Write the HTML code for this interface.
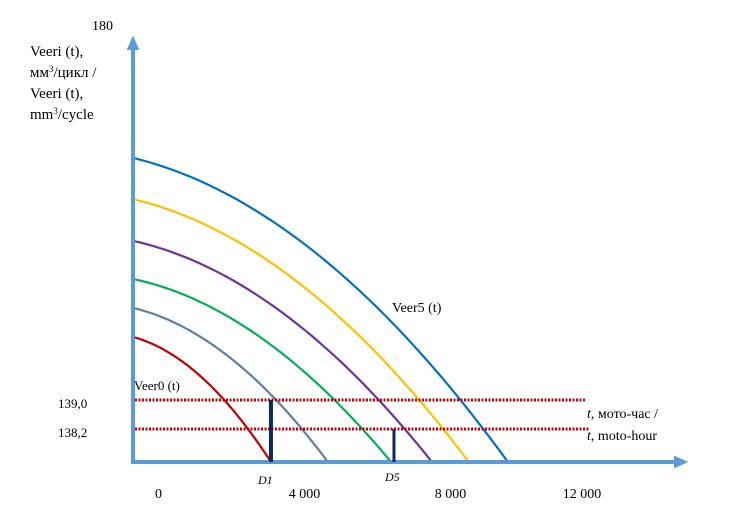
<!DOCTYPE html>
<html><head><meta charset="utf-8"><style>
body{margin:0;background:#fff;}
svg{display:block;font-family:"Liberation Serif","DejaVu Serif",serif;}
</style></head><body>
<svg id="chart" width="733" height="513" viewBox="0 0 733 513">
<defs><marker id="arr" markerWidth="4" markerHeight="4" refX="2" refY="2" orient="auto" markerUnits="strokeWidth"><path d="M0,0.4 L3.6,2 L0,3.6 Z" fill="#5b9bd5"/></marker></defs>
<g id="curves"></g>
<g id="levels"></g>
<line x1="133" y1="462" x2="133" y2="42" stroke="#5b9bd5" stroke-width="4" marker-end="url(#arr)"/>
<line x1="131" y1="462" x2="682" y2="462" stroke="#5b9bd5" stroke-width="4" marker-end="url(#arr)"/>
<g id="bars"></g>
<text x="92" y="30" font-size="14">180</text>
<g font-size="15">
<text x="30" y="56">Veeri  (t),</text>
<text x="30" y="77">мм<tspan font-size="9" dy="-5">3</tspan><tspan dy="5">/цикл  /</tspan></text>
<text x="30" y="98">Veeri  (t),</text>
<text x="30" y="119">mm<tspan font-size="9" dy="-5">3</tspan><tspan dy="5">/cycle</tspan></text>
</g>
<text x="58" y="408" font-size="13">139,0</text>
<text x="58" y="437" font-size="13">138,2</text>
<text x="392" y="312" font-size="14">Veer5 (t)</text>
<text x="134" y="390" font-size="13">Veer0 (t)</text>
<g font-size="14">
<text x="587" y="418"><tspan font-style="italic">t</tspan>, мото-час /</text>
<text x="587" y="440"><tspan font-style="italic">t</tspan>, moto-hour</text>
</g>
<text x="258" y="484" font-size="12" font-style="italic">D1</text>
<text x="385" y="481" font-size="12" font-style="italic">D5</text>
<g id="ticks" font-size="14"></g>
</svg>
<script>
const seriesNames=["Veer0","Veer1","Veer2","Veer3","Veer4","Veer5"];
const startValues=[140.74,141.54,142.34,143.39,144.54,145.68];
const endTimes=[3780,5340,7070,8190,9200,10270];
const colors=["#c00000","#5b7fa6","#00b050","#7030a0","#ffc000","#0070c0"];
const levels=[139.0,138.2];
const barTimes=[3780,7150];
const barTops=[139.0,138.2];
const tickLabels=["0","4 000","8 000","12 000"];
const tickTimes=[700,4700,8700,12300];
const baseValue=137.29;
const X=t=>133+t*0.0365;
const Y=v=>400-(v-139.0)*36.25;
const NS="http://www.w3.org/2000/svg";
const cg=document.getElementById("curves");
seriesNames.forEach((n,i)=>{
  let d="";
  for(let k=0;k<=40;k++){const u=k/40;const t=u*endTimes[i];const v=baseValue+(startValues[i]-baseValue)*(1-(0.3*u+0.7*u*u));d+=(k?"L":"M")+X(t).toFixed(1)+","+Y(v).toFixed(1);}
  const p=document.createElementNS(NS,"path");
  p.setAttribute("d",d);p.setAttribute("fill","none");p.setAttribute("stroke",colors[i]);p.setAttribute("stroke-width","2.2");
  
  
  cg.appendChild(p);
});
const lg=document.getElementById("levels");
levels.forEach((v,i)=>{
  const l=document.createElementNS(NS,"line");
  l.setAttribute("x1",135);l.setAttribute("x2",i?590:585);l.setAttribute("y1",Y(v));l.setAttribute("y2",Y(v));
  l.setAttribute("stroke","#c00000");l.setAttribute("stroke-width","3");l.setAttribute("stroke-dasharray","2 1.5");
  
  
  lg.appendChild(l);
});
const bg=document.getElementById("bars");
barTimes.forEach((t,i)=>{
  const l=document.createElementNS(NS,"line");
  l.setAttribute("x1",X(t));l.setAttribute("x2",X(t));l.setAttribute("y1",Y(barTops[i]));l.setAttribute("y2",462);
  l.setAttribute("stroke","#0d2a5e");l.setAttribute("stroke-width",i?3:4);
  
  
  bg.appendChild(l);
});
const tg=document.getElementById("ticks");
tickLabels.forEach((s,i)=>{
  const tx=document.createElementNS(NS,"text");
  tx.setAttribute("x",X(tickTimes[i]));tx.setAttribute("y",498);tx.setAttribute("text-anchor","middle");tx.textContent=s;
  
  
  tg.appendChild(tx);
});
</script>
</body></html>
